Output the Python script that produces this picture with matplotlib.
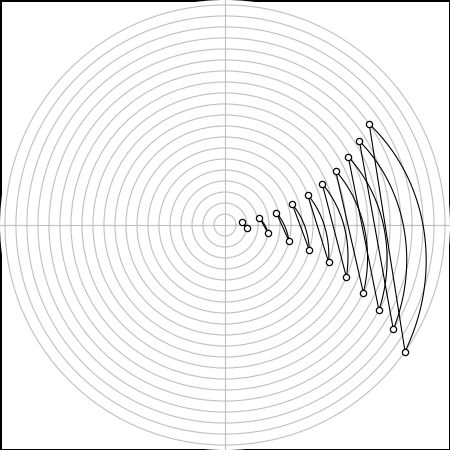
"""Polar chart: chord and arc between paired points."""
import numpy as np
import matplotlib
matplotlib.use('Agg')
import matplotlib.pyplot as plt

# Upper points (angle in degrees, radius in grid units)
upper_theta = [8.9, 11.6, 13.4, 17.0, 20.2, 23.0, 26.1, 28.9, 32.0, 35.0]
upper_r = [1.6, 3.2, 4.8, 6.4, 8.0, 9.6, 11.2, 12.8, 14.4, 16.0]

# Lower points
lower_theta = [-8.8, -10.9, -14.2, -16.6, -19.7, -23.2, -26.1, -29.0, -31.8, -35.1]
lower_r = [2.0, 4.0, 6.0, 8.0, 10.0, 12.0, 14.0, 16.0, 18.0, 20.0]

# Grid circles
ring_values = list(range(1, 21))
R_MAX = 20.45

fig = plt.figure(figsize=(4.5, 4.5), dpi=100)
fig.patch.set_facecolor('white')
fig.patch.set_edgecolor('black')
fig.patch.set_linewidth(2)

ax = fig.add_axes([0, 0, 1, 1], projection='polar')
ax.set_rlim(0, R_MAX)
ax.set_rgrids(ring_values, labels=[])
ax.set_thetagrids([0, 90, 180, 270], labels=[])
ax.grid(True, color='#c0c0c0', linewidth=0.8)
ax.spines['polar'].set_visible(False)
ax.tick_params(length=0)

for tu, ru, tl, rl in zip(upper_theta, upper_r, lower_theta, lower_r):
    th = np.radians([tu, tl])
    # straight chord
    chord, = ax.plot(th, [ru, rl], color='black', linewidth=0.8)
    chord.get_path()._interpolation_steps = 1
    # arc interpolated in polar space
    arc, = ax.plot(th, [ru, rl], color='black', linewidth=0.8)
    arc.get_path()._interpolation_steps = 100
    ax.plot(th, [ru, rl], linestyle='none', marker='o', markersize=4.5,
            markerfacecolor='white', markeredgecolor='black',
            markeredgewidth=0.9)

fig.savefig('out.png', dpi=100)
